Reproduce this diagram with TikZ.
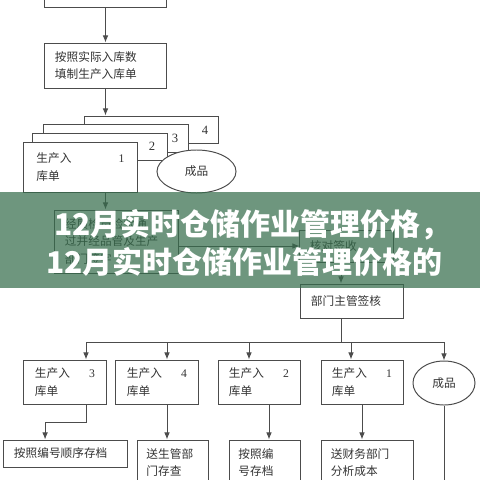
\documentclass[tikz,border=0pt]{standalone}
\usepackage{fontspec}
\setmainfont{Liberation Serif}
\newfontfamily\cjk{Noto Sans CJK SC}
\usetikzlibrary{arrows.meta,shapes.geometric}
\newcommand\cardno[1]{{\rmfamily #1}}

\begin{document}
\begin{tikzpicture}[
    x=0.025cm, y=-0.025cm,
    every node/.style={font=\cjk\fontsize{8.3}{12.5}\selectfont, text=black!80},
    box/.style={draw=black!70, line width=0.7pt, fill=white, inner sep=0pt, align=left},
    card/.style={box, minimum height=0.675cm},
    order/.style={box, minimum width=2.05cm, minimum height=1.1cm, text width=1.5cm},
    oval/.style={ellipse, draw=black!70, line width=0.7pt, fill=white, inner sep=0pt},
    arr/.style={draw=black!70, line width=0.7pt, -{Latex[length=5pt,width=4pt]}},
    link/.style={draw=black!70, line width=0.7pt},
    cardno/.style={font=\rmfamily\fontsize{9}{11}\selectfont},
    banner/.style={fill={rgb,255:red,54;green,109;blue,76}, fill opacity=0.72},
    title/.style={font=\cjk\bfseries\fontsize{21.3}{26.2}\selectfont, text=white, inner sep=0pt},
]
\useasboundingbox (0,0) rectangle (480,480);
\clip (0,0) rectangle (480,480);

% Upper steps
\node[box, minimum width=3.025cm, minimum height=0.95cm] (notice) at (105.5,-12) {};
\node[box, minimum width=3.025cm, minimum height=1.125cm, text width=2.525cm] (fillin) at (105.5,65.5) {按照实际入库数\\填制生产入库单};
\draw[arr] (notice) -- (fillin);

% Stack of four copies
\node[card, minimum width=3.325cm] (copy4) at (151.5,129.5) {};
\node[card, minimum width=3.6cm, minimum height=0.7cm] (copy3) at (116,138) {};
\node[card, minimum width=3.35cm] (copy2) at (100,146.5) {};
\node[box, minimum width=2.825cm, minimum height=1.25cm, text width=2.2cm] (copy1) at (80.5,167) {生产入\hfill\cardno{1}\\库单};
\node[cardno] (no4) at (205,130) {4};
\node[cardno] (no3) at (175,138) {3};
\node[cardno] (no2) at (152,146) {2};
\node[oval, minimum width=1.975cm, minimum height=1.075cm] (goods1) at (196.5,171.5) {成品};
\draw[arr] (fillin.south) -- (fillin.south |- copy4.north);

% Inspection and receipt
\node[box, minimum width=3.075cm, minimum height=1.575cm, text width=2.575cm] (check) at (116.5,241.5) {经质检员检验通\\过并经品管及生产\\部门签字};
\node[box, minimum width=2.325cm, minimum height=0.8cm, text width=1.825cm] (recv) at (346.5,246) {核对签收};
\node[box, minimum width=2.55cm, minimum height=0.85cm, text width=2.05cm] (approve) at (352,301) {部门主管签核};
\draw[arr] (fillin.south |- copy1.south) -- (fillin.south |- check.north);
\draw[arr] (check.east |- recv.west) -- (recv.west);
\coordinate (mid) at (341,0);
\draw[arr] (mid |- recv.south) -- (mid |- approve.north);

% Distribution of the copies
\foreach \x/\k/\n in {65/A/3,157/B/4,259/C/2,362/D/1}
    \node[order] (ord\k) at (\x,382) {生产入\hfill\cardno{\n}\\库单};
\node[oval, minimum width=1.55cm, minimum height=1.1cm] (goods2) at (444,383) {成品};

\coordinate (tapA) at (86,342);
\coordinate (tapB) at (167,342);
\coordinate (tapC) at (249,342);
\coordinate (tapD) at (351,342);
\coordinate (tapE) at (444,342);
\draw[link] (mid |- approve.south) -- (mid |- tapA);
\draw[link] (tapA) -- (tapE);
\draw[arr] (tapA) -- (tapA |- ordA.north);
\draw[arr] (tapB) -- (tapB |- ordB.north);
\draw[arr] (tapC) -- (tapC |- ordC.north);
\draw[arr] (tapD) -- (tapD |- ordD.north);
\draw[arr] (tapE) -- (goods2.north);

% Filing
\node[box, minimum width=3.075cm, minimum height=0.675cm, text width=2.575cm] (arcA) at (65.5,453.5) {按照编号顺序存档};
\node[box, minimum width=1.775cm, minimum height=1.125cm, text width=1.3cm] (arcB) at (172.5,462.5) {送生管部\\门存查};
\node[box, minimum width=1.775cm, minimum height=1.125cm, text width=1.3cm] (arcC) at (264.5,462.5) {按照编\\号存档};
\node[box, minimum width=2.3cm, minimum height=1.125cm, text width=1.8cm] (arcD) at (367,462.5) {送财务部门\\分析成本};

\coordinate (bendA) at (86,422);
\coordinate (dropC) at (269,0);
\coordinate (dropD) at (362,0);
\coordinate (tail) at (444,495);
\draw[arr] (tapA |- ordA.south) -- (bendA) -| ([xshift=-0.51cm]arcA.north);
\draw[arr] (tapB |- ordB.south) -- (tapB |- arcB.north);
\draw[arr] (dropC |- ordC.south) -- (dropC |- arcC.north);
\draw[arr] (dropD |- ordD.south) -- (dropD |- arcD.north);
\draw[link] (goods2.south) -- (tail);

% Title banner
\fill[banner] (0,192) rectangle (480,288);
\node[title, anchor=west] (head1) at (54,225) {12月实时仓储作业管理价格，};
\node[title, anchor=west] (head2) at (46,262) {12月实时仓储作业管理价格的};

\end{tikzpicture}
\end{document}
